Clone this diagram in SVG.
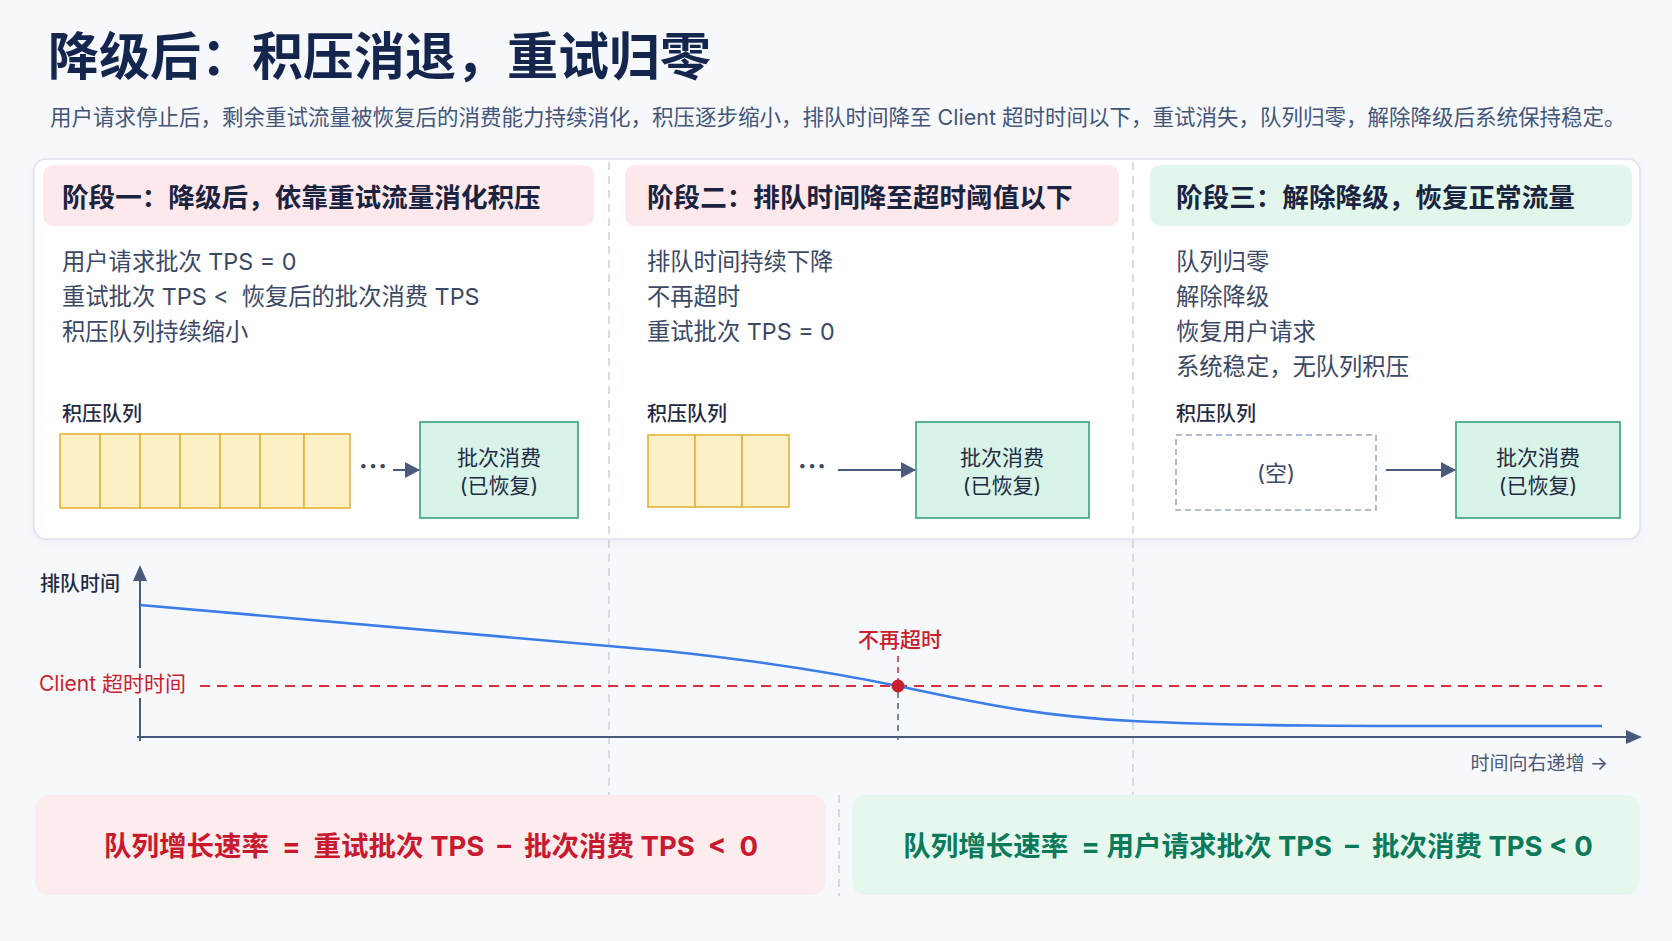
<svg xmlns="http://www.w3.org/2000/svg" width="1672" height="941" viewBox="0 0 1672 941">
<defs>
<style>
text{font-family:Inter,"Noto Sans CJK SC",sans-serif}
.title{font-size:51px;font-weight:700;fill:#14264d}
.sub{font-size:21.5px;fill:#44557a}
.hdr{font-size:26.6px;font-weight:700;fill:#1a2440}
.body{font-size:23.3px;fill:#3b4866}
.lbl{font-size:20px;font-weight:500;fill:#1f2a44}
.cons{font-size:21px;fill:#1f2a44;text-anchor:middle}
.cell{fill:#fdf0c4;stroke:#e3b23c;stroke-width:1.6}
.consbox{fill:#d8f3e8;stroke:#4ea98a;stroke-width:1.8}
.sep{stroke:#c9cfe0;stroke-width:1.5;stroke-dasharray:8 6;fill:none}
.arr{stroke:#4a5a7a;stroke-width:2;fill:none}
.dots{font-size:26px;font-weight:700;fill:#3b4866;letter-spacing:1px}
</style>
<marker id="ah" markerWidth="16" markerHeight="16" refX="14" refY="8" orient="auto" markerUnits="userSpaceOnUse">
<path d="M0,0 L15,8 L0,16 Z" fill="#4a5a7a"/>
</marker>
<filter id="sh" x="-5%" y="-5%" width="110%" height="115%">
<feDropShadow dx="0" dy="2" stdDeviation="3" flood-color="#8090b0" flood-opacity="0.12"/>
</filter>
</defs>
<rect x="0" y="0" width="1672" height="941" fill="#f6f8fc"/>

<g id="title">
<text class="title" x="48" y="75">降级后：积压消退，重试归零</text>
<text class="sub" x="50" y="125">用户请求停止后，剩余重试流量被恢复后的消费能力持续消化，积压逐步缩小，排队时间降至 Client 超时时间以下，重试消失，队列归零，解除降级后系统保持稳定。</text>
</g>

<g id="panel">
<rect x="34" y="159" width="1606" height="380" rx="12" fill="#ffffff" stroke="#dde2ec" stroke-width="1.5" filter="url(#sh)"/>
</g>

<g id="separators">
<line class="sep" x1="609" y1="162" x2="609" y2="795"/>
<line class="sep" x1="1133" y1="162" x2="1133" y2="795"/>
<line class="sep" x1="839" y1="795" x2="839" y2="896"/>
</g>

<g id="stage1">
<rect x="43" y="165" width="551" height="61" rx="10" fill="#fde9ec"/>
<text class="hdr" x="62" y="207">阶段一：降级后，依靠重试流量消化积压</text>
<text class="body" x="62" y="270">用户请求批次 TPS = 0</text>
<text class="body" x="62" y="305" xml:space="preserve">重试批次 TPS &lt;  恢复后的批次消费 TPS</text>
<text class="body" x="62" y="340">积压队列持续缩小</text>
<text class="lbl" x="62" y="421">积压队列</text>
<rect class="cell" x="60" y="434" width="40" height="74"/>
<rect class="cell" x="100" y="434" width="40" height="74"/>
<rect class="cell" x="140" y="434" width="40" height="74"/>
<rect class="cell" x="180" y="434" width="40" height="74"/>
<rect class="cell" x="220" y="434" width="40" height="74"/>
<rect class="cell" x="260" y="434" width="44" height="74"/>
<rect class="cell" x="304" y="434" width="46" height="74"/>
<text class="dots" x="359" y="475">···</text>
</g>
<g id="consumer1">
<rect class="consbox" x="420" y="422" width="158" height="96"/>
<text class="cons" x="499" y="465">批次消费</text>
<text class="cons" x="499" y="493">(已恢复)</text>
</g>

<g id="stage2">
<rect x="625" y="165" width="494" height="61" rx="10" fill="#fde9ec"/>
<text class="hdr" x="647" y="207">阶段二：排队时间降至超时阈值以下</text>
<text class="body" x="647" y="270">排队时间持续下降</text>
<text class="body" x="647" y="305">不再超时</text>
<text class="body" x="647" y="340">重试批次 TPS = 0</text>
<text class="lbl" x="647" y="421">积压队列</text>
<rect class="cell" x="648" y="435" width="47" height="72"/>
<rect class="cell" x="695" y="435" width="47" height="72"/>
<rect class="cell" x="742" y="435" width="47" height="72"/>
<text class="dots" x="798" y="475">···</text>
</g>
<g id="consumer2">
<rect class="consbox" x="916" y="422" width="173" height="96"/>
<text class="cons" x="1002" y="465">批次消费</text>
<text class="cons" x="1002" y="493">(已恢复)</text>
</g>

<g id="stage3">
<rect x="1150" y="165" width="482" height="61" rx="10" fill="#e3f6ec"/>
<text class="hdr" x="1176" y="207">阶段三：解除降级，恢复正常流量</text>
<text class="body" x="1176" y="270">队列归零</text>
<text class="body" x="1176" y="305">解除降级</text>
<text class="body" x="1176" y="340">恢复用户请求</text>
<text class="body" x="1176" y="375">系统稳定，无队列积压</text>
<text class="lbl" x="1176" y="421">积压队列</text>
<rect x="1176" y="435" width="200" height="75" fill="#ffffff" stroke="#9aa5c0" stroke-width="1.5" stroke-dasharray="6 4"/>
<text x="1276" y="481" font-size="22" fill="#3b4866" text-anchor="middle">(空)</text>
</g>
<g id="consumer3">
<rect class="consbox" x="1456" y="422" width="164" height="96"/>
<text class="cons" x="1538" y="465">批次消费</text>
<text class="cons" x="1538" y="493">(已恢复)</text>
</g>

<g id="connectors">
<line class="arr" x1="393" y1="470" x2="419" y2="470" marker-end="url(#ah)"/>
<line class="arr" x1="838" y1="470" x2="915" y2="470" marker-end="url(#ah)"/>
<line class="arr" x1="1386" y1="470" x2="1455" y2="470" marker-end="url(#ah)"/>
</g>

<g id="chart">
<line x1="140" y1="580" x2="140" y2="741" stroke="#4a5a7a" stroke-width="2"/>
<path d="M133,581 L140,565 L147,581 Z" fill="#4a5a7a"/>
<line x1="137" y1="737" x2="1626" y2="737" stroke="#4a5a7a" stroke-width="2"/>
<path d="M1626,730 L1642,737 L1626,744 Z" fill="#4a5a7a"/>
<text class="lbl" x="40" y="591" fill="#1a2440">排队时间</text>
<line x1="200" y1="686" x2="1602" y2="686" stroke="#d9303e" stroke-width="1.8" stroke-dasharray="10 7"/>
<rect x="36" y="668" width="154" height="30" fill="#f6f8fc"/>
<text x="39" y="691" font-size="21" fill="#cc1f2e">Client 超时时间</text>
<path d="M140,605 L666,651 C760,661 830,672 898,686 C960,699 1030,716 1133,721 C1250,727 1400,726 1602,726" fill="none" stroke="#3a7ce8" stroke-width="2.6"/>
<line x1="898" y1="656" x2="898" y2="686" stroke="#d9303e" stroke-width="1.6" stroke-dasharray="6 5"/>
<line x1="898" y1="692" x2="898" y2="740" stroke="#5a6a90" stroke-width="1.6" stroke-dasharray="6 5"/>
<circle cx="898" cy="686" r="6.5" fill="#c8202f"/>
<text x="900" y="647" font-size="21" font-weight="500" fill="#c8202f" text-anchor="middle">不再超时</text>
<text x="1608" y="770" font-size="19" fill="#4a5878" text-anchor="end">时间向右递增 →</text>
</g>

<g id="formula-red">
<rect x="35" y="795" width="791" height="100" rx="14" fill="#fdecee"/>
<text x="431" y="856" font-size="27.5" font-weight="700" fill="#c8192e" text-anchor="middle" xml:space="preserve">队列增长速率  =  重试批次 TPS  –  批次消费 TPS  &lt;  0</text>
</g>
<g id="formula-green">
<rect x="852" y="795" width="788" height="100" rx="14" fill="#e6f8ee"/>
<text x="1248" y="856" font-size="27.5" font-weight="700" fill="#0b7a5a" text-anchor="middle" xml:space="preserve">队列增长速率  = 用户请求批次 TPS  –  批次消费 TPS &lt; 0</text>
</g>
</svg>
